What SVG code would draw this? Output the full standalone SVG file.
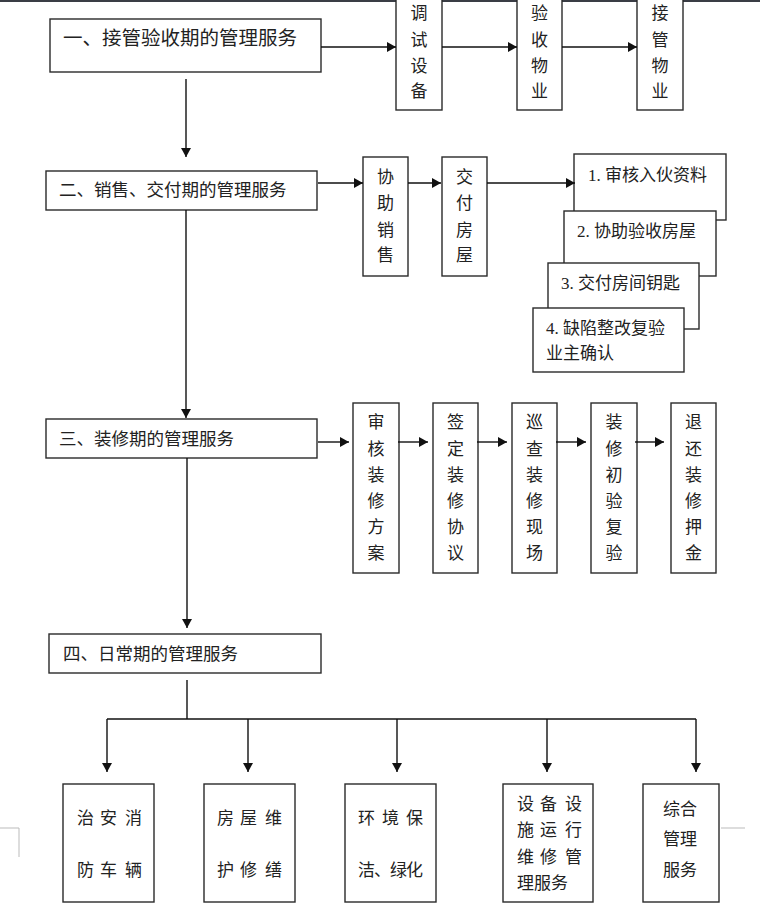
<svg xmlns="http://www.w3.org/2000/svg" width="760" height="917" viewBox="0 0 760 917">
<defs>
<style>
.box{fill:#fff;stroke:#2a2a2a;stroke-width:1.4}
.t{font-family:"Liberation Serif","Noto Sans CJK SC",serif;fill:#222;font-size:17px}
.tm{text-anchor:middle}
.ln{stroke:#111;stroke-width:1.4;fill:none}
.mk{stroke:#bbb;stroke-width:1;fill:none}
</style>
<marker id="ah" markerWidth="10" markerHeight="10" refX="9" refY="5" orient="auto" markerUnits="userSpaceOnUse"><path d="M0,0 L9,5 L0,10 z" fill="#111"/></marker>
</defs>
<rect x="0" y="0" width="760" height="917" fill="#fff"/>
<rect x="0" y="0" width="760" height="2" fill="#3a3d45"/>

<g id="n1"><rect class="box" x="50" y="19" width="271" height="53"/><text class="t" x="63" y="45" style="font-size:19.5px">一、接管验收期的管理服务</text></g>
<g id="n1a"><rect class="box" x="396" y="-2" width="46" height="112"/><text class="t tm" x="419"><tspan x="419" y="19">调</tspan><tspan x="419" y="46">试</tspan><tspan x="419" y="72">设</tspan><tspan x="419" y="97">备</tspan></text></g>
<g id="n1b"><rect class="box" x="517" y="-2" width="45" height="112"/><text class="t tm"><tspan x="539.5" y="19">验</tspan><tspan x="539.5" y="46">收</tspan><tspan x="539.5" y="72">物</tspan><tspan x="539.5" y="97">业</tspan></text></g>
<g id="n1c"><rect class="box" x="637" y="-2" width="46" height="112"/><text class="t tm"><tspan x="660" y="19">接</tspan><tspan x="660" y="46">管</tspan><tspan x="660" y="72">物</tspan><tspan x="660" y="97">业</tspan></text></g>

<g id="n2"><rect class="box" x="46" y="171" width="271" height="39"/><text class="t" x="59" y="196" style="font-size:17.5px">二、销售、交付期的管理服务</text></g>
<g id="n2a"><rect class="box" x="363" y="157" width="45" height="119"/><text class="t tm"><tspan x="385.5" y="183">协</tspan><tspan x="385.5" y="209">助</tspan><tspan x="385.5" y="236">销</tspan><tspan x="385.5" y="261">售</tspan></text></g>
<g id="n2b"><rect class="box" x="442" y="157" width="45" height="119"/><text class="t tm"><tspan x="464.5" y="183">交</tspan><tspan x="464.5" y="209">付</tspan><tspan x="464.5" y="236">房</tspan><tspan x="464.5" y="261">屋</tspan></text></g>
<g id="s1"><rect class="box" x="574" y="154" width="152" height="66"/><text class="t" x="588" y="181">1. 审核入伙资料</text></g>
<g id="s2"><rect class="box" x="564" y="211" width="152" height="65"/><text class="t" x="577" y="237">2. 协助验收房屋</text></g>
<g id="s3"><rect class="box" x="548" y="263" width="151" height="66"/><text class="t" x="561" y="289">3. 交付房间钥匙</text></g>
<g id="s4"><rect class="box" x="533" y="308" width="151" height="64"/><text class="t" x="546" y="334">4. 缺陷整改复验</text><text class="t" x="546" y="359">业主确认</text></g>

<g id="n3"><rect class="box" x="46" y="419" width="271" height="39"/><text class="t" x="59" y="445" style="font-size:17.5px">三、装修期的管理服务</text></g>
<g id="n3a"><rect class="box" x="353" y="403" width="46" height="170"/><text class="t tm"><tspan x="376" y="428">审</tspan><tspan x="376" y="455">核</tspan><tspan x="376" y="481">装</tspan><tspan x="376" y="507">修</tspan><tspan x="376" y="533">方</tspan><tspan x="376" y="559">案</tspan></text></g>
<g id="n3b"><rect class="box" x="433" y="403" width="45" height="170"/><text class="t tm"><tspan x="455.5" y="428">签</tspan><tspan x="455.5" y="455">定</tspan><tspan x="455.5" y="481">装</tspan><tspan x="455.5" y="507">修</tspan><tspan x="455.5" y="533">协</tspan><tspan x="455.5" y="559">议</tspan></text></g>
<g id="n3c"><rect class="box" x="512" y="403" width="45" height="170"/><text class="t tm"><tspan x="534.5" y="428">巡</tspan><tspan x="534.5" y="455">查</tspan><tspan x="534.5" y="481">装</tspan><tspan x="534.5" y="507">修</tspan><tspan x="534.5" y="533">现</tspan><tspan x="534.5" y="559">场</tspan></text></g>
<g id="n3d"><rect class="box" x="591" y="403" width="46" height="170"/><text class="t tm"><tspan x="614" y="428">装</tspan><tspan x="614" y="455">修</tspan><tspan x="614" y="481">初</tspan><tspan x="614" y="507">验</tspan><tspan x="614" y="533">复</tspan><tspan x="614" y="559">验</tspan></text></g>
<g id="n3e"><rect class="box" x="671" y="403" width="45" height="170"/><text class="t tm"><tspan x="693.5" y="428">退</tspan><tspan x="693.5" y="455">还</tspan><tspan x="693.5" y="481">装</tspan><tspan x="693.5" y="507">修</tspan><tspan x="693.5" y="533">押</tspan><tspan x="693.5" y="559">金</tspan></text></g>

<g id="n4"><rect class="box" x="49" y="634" width="272" height="39"/><text class="t" x="63" y="660" style="font-size:17.5px">四、日常期的管理服务</text></g>
<g id="n4a"><rect class="box" x="63" y="784" width="91" height="118"/><text class="t" x="77 100 125" y="824">治安消</text><text class="t" x="77 100 125" y="876">防车辆</text></g>
<g id="n4b"><rect class="box" x="204" y="784" width="91" height="118"/><text class="t" x="217 240 265" y="824">房屋维</text><text class="t" x="217 240 265" y="876">护修缮</text></g>
<g id="n4c"><rect class="box" x="345" y="784" width="91" height="118"/><text class="t" x="358 382 406" y="824">环境保</text><text class="t" x="358 374 390 406" y="876">洁、绿化</text></g>
<g id="n4d"><rect class="box" x="503" y="784" width="90" height="118"/><text class="t" x="517 540 565" y="810">设备设</text><text class="t" x="517 540 565" y="836">施运行</text><text class="t" x="517 540 565" y="863">维修管</text><text class="t" x="517" y="889">理服务</text></g>
<g id="n4e"><rect class="box" x="643" y="784" width="76" height="118"/><text class="t" x="663" y="815">综合</text><text class="t" x="663" y="845">管理</text><text class="t" x="663" y="876">服务</text></g>

<g id="connectors">
<line class="ln" x1="321" y1="47" x2="396" y2="47" marker-end="url(#ah)"/>
<line class="ln" x1="442" y1="47" x2="517" y2="47" marker-end="url(#ah)"/>
<line class="ln" x1="562" y1="47" x2="637" y2="47" marker-end="url(#ah)"/>
<line class="ln" x1="186" y1="79" x2="186" y2="157" marker-end="url(#ah)"/>
<line class="ln" x1="318" y1="183" x2="363" y2="183" marker-end="url(#ah)"/>
<line class="ln" x1="408" y1="183" x2="441" y2="183" marker-end="url(#ah)"/>
<line class="ln" x1="487" y1="183" x2="575" y2="183" marker-end="url(#ah)"/>
<line class="ln" x1="186" y1="210" x2="186" y2="418" marker-end="url(#ah)"/>
<line class="ln" x1="318" y1="442" x2="349" y2="442" marker-end="url(#ah)"/>
<line class="ln" x1="398" y1="442" x2="428" y2="442" marker-end="url(#ah)"/>
<line class="ln" x1="477" y1="442" x2="507" y2="442" marker-end="url(#ah)"/>
<line class="ln" x1="556" y1="442" x2="586" y2="442" marker-end="url(#ah)"/>
<line class="ln" x1="635" y1="442" x2="664" y2="442" marker-end="url(#ah)"/>
<line class="ln" x1="187" y1="458" x2="187" y2="628" marker-end="url(#ah)"/>
<line class="ln" x1="187" y1="680" x2="187" y2="719"/>
<line class="ln" x1="107" y1="719" x2="696" y2="719"/>
<line class="ln" x1="107" y1="719" x2="107" y2="772" marker-end="url(#ah)"/>
<line class="ln" x1="248" y1="719" x2="248" y2="772" marker-end="url(#ah)"/>
<line class="ln" x1="397" y1="719" x2="397" y2="772" marker-end="url(#ah)"/>
<line class="ln" x1="547" y1="719" x2="547" y2="772" marker-end="url(#ah)"/>
<line class="ln" x1="696" y1="719" x2="696" y2="772" marker-end="url(#ah)"/>
</g>
<path class="mk" d="M0,828 H19 V857"/>
<path class="mk" d="M721,828 H745"/>
</svg>
